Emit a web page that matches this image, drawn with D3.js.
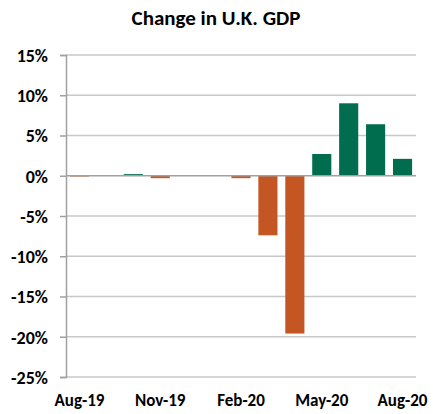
<!DOCTYPE html>
<html>
<head>
<meta charset="utf-8">
<script src="https://cdn.jsdelivr.net/npm/d3@7"></script>
<style>
body { margin: 0; background: #fff; }
text { font-family: Carlito, Calibri, Lato, "Open Sans", sans-serif; font-weight: 900; fill: #000; }
</style>
</head>
<body>
<div id="chart"></div>
<script>
var months = ["Aug-19", "Sep-19", "Oct-19", "Nov-19", "Dec-19", "Jan-20", "Feb-20",
	"Mar-20", "Apr-20", "May-20", "Jun-20", "Jul-20", "Aug-20"];
var change = [-0.1, 0.0, 0.2, -0.3, 0.02, 0.02, -0.3, -7.4, -19.6, 2.7, 9.0, 6.4, 2.1];
var yTicks = [15, 10, 5, 0, -5, -10, -15, -20, -25];
var xLabels = ["Aug-19", "Nov-19", "Feb-20", "May-20", "Aug-20"];

var width = 433, height = 414;
var margin = {top: 55, right: 17, bottom: 37, left: 66};

var svg = d3.select("#chart").append("svg")
	.attr("width", width)
	.attr("height", height);

var x = d3.scaleBand()
	.domain(months)
	.range([margin.left, width - margin.right])
	.paddingInner(0.29)
	.paddingOuter(0.145);

var y = d3.scaleLinear()
	.domain([-25, 15])
	.range([height - margin.bottom, margin.top]);

svg.append("text")
	.attr("x", 216)
	.attr("y", 25)
	.attr("text-anchor", "middle")
	.style("font-size", "21px")
	.text("Change in U.K. GDP");

// gridlines
svg.append("g")
	.selectAll("line")
	.data(yTicks.filter(function (d) { return d !== 0; }))
	.enter().append("line")
	.attr("x1", margin.left)
	.attr("x2", width - margin.right)
	.attr("y1", function (d) { return y(d); })
	.attr("y2", function (d) { return y(d); })
	.attr("stroke", "#c8c8c8")
	.attr("stroke-width", 1.5);

// bars
svg.append("g")
	.selectAll("rect")
	.data(change)
	.enter().append("rect")
	.attr("x", function (d, i) { return x(months[i]); })
	.attr("width", x.bandwidth())
	.attr("y", function (d) { return y(Math.max(0, d)); })
	.attr("height", function (d) { return Math.abs(y(d) - y(0)); })
	.attr("fill", function (d) { return d < 0 ? "#c45623" : "#006e4e"; });

// zero line
svg.append("line")
	.attr("x1", margin.left)
	.attr("x2", width - margin.right)
	.attr("y1", y(0))
	.attr("y2", y(0))
	.attr("stroke", "#a0a0a0")
	.attr("stroke-width", 1.5);

// y axis
var yAxis = svg.append("g")
	.attr("transform", "translate(" + margin.left + ",0)")
	.call(d3.axisLeft(y)
		.tickValues(yTicks)
		.tickSize(6)
		.tickPadding(12)
		.tickFormat(function (d) { return d + "%"; }));
yAxis.select(".domain").attr("stroke", "#a0a0a0").attr("stroke-width", 1.5);
yAxis.selectAll(".tick line").attr("stroke", "#a0a0a0").attr("stroke-width", 1.5);
yAxis.selectAll("text").style("font-size", "18px").attr("dy", "0.35em");

// x labels
svg.append("g")
	.selectAll("text")
	.data(xLabels)
	.enter().append("text")
	.attr("x", function (d) { return x(d) + x.bandwidth() / 2; })
	.attr("y", 406)
	.attr("text-anchor", "middle")
	.style("font-size", "17px")
	.text(function (d) { return d; });
</script>
</body>
</html>
